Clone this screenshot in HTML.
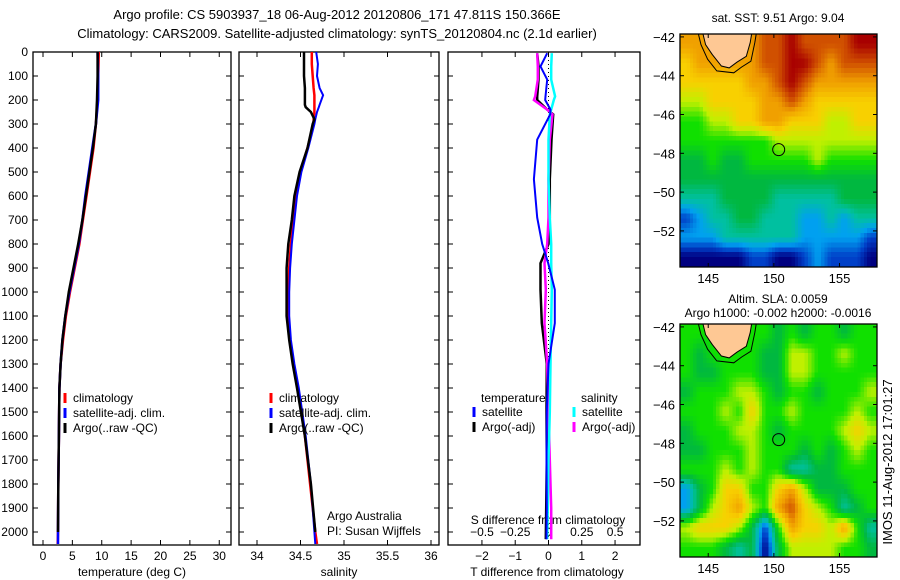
<!DOCTYPE html>
<html><head><meta charset="utf-8"><style>
body{margin:0;background:#fff}
svg{display:block;font-family:"Liberation Sans",sans-serif;font-size:12px}
</style></head><body>
<svg id="fig" width="900" height="580" viewBox="0 0 900 580">
<text x="337" y="19" text-anchor="middle" font-size="13">Argo profile: CS 5903937_18 06-Aug-2012 20120806_171 47.811S 150.366E</text>
<text x="337" y="38" text-anchor="middle" font-size="13">Climatology: CARS2009. Satellite-adjusted climatology: synTS_20120804.nc (2.1d earlier)</text>
<g id="g"></g>
</svg>
<script>
// ---- data ----
const tDepth=[0,100,200,300,400,500,600,700,800,900,1000,1100,1200,1300,1400,1600,1800,2000,2050];
const tClim=[9.5,9.4,9.3,9.0,8.6,8.0,7.4,6.8,6.2,5.4,4.6,3.9,3.4,3.0,2.8,2.7,2.6,2.55,2.5];
const tSat=[9.3,9.4,9.4,9.0,8.4,7.8,7.2,6.7,6.1,5.3,4.5,3.8,3.3,3.0,2.8,2.7,2.6,2.55,2.55];
const tArgo=[9.3,9.3,9.2,9.0,8.5,7.9,7.3,6.7,6.0,5.2,4.4,3.8,3.3,3.0,2.8,2.7,2.6,2.55];
const sDepth=[0,50,100,150,180,220,230,250,280,300,400,500,600,700,800,900,1000,1100,1200,1300,1400,1600,1800,2000,2050];
const sClim=[34.63,34.63,34.64,34.65,34.66,34.66,34.66,34.66,34.65,34.65,34.58,34.5,34.45,34.42,34.39,34.37,34.36,34.36,34.38,34.42,34.47,34.55,34.61,34.67,34.69];
const sSat=[34.68,34.70,34.69,34.72,34.76,34.72,34.71,34.69,34.67,34.66,34.59,34.51,34.46,34.43,34.40,34.38,34.37,34.37,34.39,34.43,34.48,34.56,34.62,34.66,34.67];
const sArgo=[34.54,34.54,34.54,34.55,34.55,34.55,34.56,34.62,34.66,34.64,34.58,34.49,34.43,34.40,34.36,34.34,34.34,34.34,34.37,34.41,34.46,34.55,34.62,34.67];
const dDepth=[5,60,115,185,200,240,260,365,530,690,800,880,990,1130,1300,1500,1700,1900,2030];
const dTSat=[-0.04,-0.24,-0.04,-0.09,-0.1,0.06,0.05,-0.34,-0.44,-0.34,-0.19,-0.01,0.19,0.19,0.0,-0.05,-0.06,-0.05,-0.06];
const dTArgo=[-0.34,-0.3,-0.3,-0.34,-0.34,-0.04,0.14,0.09,0.04,0.04,0.0,-0.24,-0.24,-0.2,-0.05,-0.06,-0.05,-0.07,-0.08];
const dSSat=[0.025,0.02,0.02,0.05,0.04,0.02,0.01,0.0,0.0,0.01,0.02,0.02,0.025,0.02,0.015,0.01,0.0,-0.005,-0.01];
const dSArgo=[-0.085,-0.08,-0.08,-0.1,-0.11,-0.01,0.03,0.01,0.0,0.0,-0.01,-0.03,-0.02,-0.03,-0.01,0.0,0.01,0.02,0.02];
const depthTicks=[0,100,200,300,400,500,600,700,800,900,1000,1100,1200,1300,1400,1500,1600,1700,1800,1900,2000];
const tTicks=[0,5,10,15,20,25,30];
const sTicks=[34,34.5,35,35.5,36];
const dTTicks=[-2,-1,0,1,2];
const dSTicks=[-0.5,-0.25,0,0.25,0.5];
const lonTicks=[145,150,155];
const latTicks=[-42,-44,-46,-48,-50,-52];
const sstGrid=[
[8,8,8,8,8,8,9,9,10,9,9,9,9,10,10],
[7,8,8,8,8,8,9,9,10,10,9,8,9,9,9],
[7,7,7,7,7,8,8,9,10,9,8,8,8,8,8],
[6,6,7,7,7,7,8,8,9,8,7,7,7,7,7],
[5,5,6,6,7,7,8,8,7,7,7,6,6,7,7],
[5,5,5,5,5,5,5,6,6,6,6,6,6,6,6],
[4,4,5,4,4,5,5,5,5,5,6,5,5,5,5],
[4,4,4,4,4,4,4,4,4,4,4,4,4,4,4],
[3,3,3,4,4,4,4,3,3,3,3,3,4,4,4],
[1,2,3,3,4,4,3,3,3,2,2,3,2,3,3],
[2,2,2,3,3,3,3,3,3,2,2,2,2,2,1],
[0,0,0,0,0,1,1,0,0,1,2,1,1,1,0]];
const slaGrid=[
[5,5,5,5,5,5,5,4,5,4,5,5,4,5,5],
[5,4,5,5,5,5,4,4,6,6,5,5,6,5,5],
[5,4,4,5,5,5,4,4,6,6,5,5,5,5,5],
[4,5,5,5,6,6,5,4,5,5,4,5,5,5,6],
[5,5,5,6,5,7,5,5,6,5,5,5,5,6,5],
[4,5,5,5,6,6,5,4,5,5,5,5,6,7,6],
[4,4,5,5,5,6,5,5,5,4,5,4,5,6,5],
[5,5,5,6,5,6,5,5,3,3,4,4,5,5,5],
[2,4,5,7,7,5,5,7,8,6,4,4,4,5,5],
[2,4,6,7,8,6,5,8,9,7,6,5,3,4,5],
[6,7,7,7,6,4,1,5,8,7,7,6,8,5,3],
[5,5,5,4,3,4,0,4,6,6,6,6,5,5,4]];
const landLon=[144.6,144.8,145.3,146.0,146.6,147.2,147.9,148.2,148.3];
const landLat=[-41.85,-42.4,-42.9,-43.5,-43.6,-43.3,-43.0,-42.3,-41.85];
const argoLon=150.366, argoLat=-47.811;
// ---- drawing ----
const NS="http://www.w3.org/2000/svg";const G=document.getElementById('g');
function el(t,a,p){const e=document.createElementNS(NS,t);for(const k in a)e.setAttribute(k,a[k]);(p||G).appendChild(e);return e;}
function txt(x,y,s,anchor,extra){const e=el('text',Object.assign({x:x,y:y,'text-anchor':anchor||'start'},extra||{}));e.textContent=s;return e;}
const Y0=52,Y1=545,yD=d=>Y0+(d-0)*0.24;
const pans=[{x0:33,x1:231,v0:-1.7,v1:32},{x0:239,x1:439,v0:33.793,v1:36.092},{x0:448,x1:640,v0:-3.02,v1:2.75}];
pans.forEach(p=>p.f=v=>p.x0+(v-p.v0)/(p.v1-p.v0)*(p.x1-p.x0));
function line(xs,ys,fx,col,w,name){let d='';for(let i=0;i<xs.length&&i<ys.length;i++){d+=(i?'L':'M')+fx(xs[i]).toFixed(1)+','+yD(ys[i]).toFixed(1);}
 const e=el('path',{d:d,fill:'none',stroke:col,'stroke-width':w});
 
 return e;}
pans.forEach((p,i)=>{
 const b=el('rect',{x:p.x0,y:Y0,width:p.x1-p.x0,height:Y1-Y0,fill:'none',stroke:'#000','stroke-width':1.3});
 
 
 depthTicks.forEach(d=>{el('line',{x1:p.x0,x2:p.x0+5,y1:yD(d),y2:yD(d),stroke:'#000'});el('line',{x1:p.x1,x2:p.x1-5,y1:yD(d),y2:yD(d),stroke:'#000'});});
});
depthTicks.forEach(d=>{const t=txt(28,yD(d)+4,String(d),'end');});
function xticks(p,ticks,ly){ticks.forEach(v=>{const x=p.f(v);el('line',{x1:x,x2:x,y1:Y1,y2:Y1-5,stroke:'#000'});el('line',{x1:x,x2:x,y1:Y0,y2:Y0+5,stroke:'#000'});
 const t=txt(x,ly,String(v).replace('-','\u2212'),'middle');});}
xticks(pans[0],tTicks,560);xticks(pans[1],sTicks,560);xticks(pans[2],dTTicks,560);
const sp=v=>pans[2].f(v*4);
dSTicks.forEach(v=>{const t=txt(sp(v),536,String(v).replace('-','\u2212'),'middle');});
[[132,'temperature (deg C)'],[339,'salinity'],[547,'T difference from climatology']].forEach(a=>{const t=txt(a[0],576,a[1],'middle');});
let t=txt(548,524,'S difference from climatology','middle');
// profiles
line(tClim,tDepth,pans[0].f,'#f00',2.5,'temp-climatology');
line(tSat,tDepth,pans[0].f,'#00f',2.5,'temp-satellite');
line(tArgo,tDepth,pans[0].f,'#000',2.5,'temp-argo');
line(sClim,sDepth,pans[1].f,'#f00',2.5,'sal-climatology');
line(sSat,sDepth,pans[1].f,'#00f',2,'sal-satellite');
line(sArgo,sDepth,pans[1].f,'#000',2.5,'sal-argo');
el('line',{x1:pans[2].f(0),x2:pans[2].f(0),y1:Y0,y2:Y1,stroke:'#000','stroke-dasharray':'1,3'});
line(dTArgo,dDepth,pans[2].f,'#000',2.5,'tdiff-argo');
line(dSArgo,dDepth,sp,'#f0f',2.5,'sdiff-argo');
line(dSSat,dDepth,sp,'#0ff',2.5,'sdiff-satellite');
line(dTSat,dDepth,pans[2].f,'#00f',2,'tdiff-satellite');
// legends
function leg(x,y,col,s,name){el('line',{x1:x,x2:x,y1:y-9,y2:y+1,stroke:col,'stroke-width':3});const t=txt(x+8,y,s);}
[['climatology','#f00'],['satellite-adj. clim.','#00f'],['Argo(..raw -QC)','#000']].forEach((a,i)=>leg(65,402+i*15,a[1],a[0],'legend-entry'));
[['climatology','#f00'],['satellite-adj. clim.','#00f'],['Argo(..raw -QC)','#000']].forEach((a,i)=>leg(271,402+i*15,a[1],a[0],'legend-entry'));
t=txt(481,402,'temperature');
t=txt(581,402,'salinity');
leg(474,416,'#00f','satellite','legend-entry');leg(474,431,'#000','Argo(-adj)','legend-entry');
leg(574,416,'#0ff','satellite','legend-entry');leg(574,431,'#f0f','Argo(-adj)','legend-entry');
t=txt(327,520,'Argo Australia');
t=txt(327,535,'PI: Susan Wijffels');
// maps
const cmap=[[0,0,128],[0,64,200],[0,160,240],[0,192,160],[0,184,64],[16,224,0],[192,240,0],[248,208,0],[240,160,0],[208,80,0],[168,0,0]];
function col(v){v=Math.max(0,Math.min(10,v));const i=Math.min(9,Math.floor(v)),f=v-i;const a=cmap[i],b=cmap[i+1];
 return 'rgb('+a.map((c,k)=>Math.round(c+(b[k]-c)*f)).join(',')+')';}
function sample(grid,r,c){const R=grid.length,C=grid[0].length;r=Math.max(0,Math.min(R-1,r));c=Math.max(0,Math.min(C-1,c));
 const r0=Math.floor(r),c0=Math.floor(c),r1=Math.min(R-1,r0+1),c1=Math.min(C-1,c0+1),fr=r-r0,fc=c-c0;
 return grid[r0][c0]*(1-fr)*(1-fc)+grid[r0][c1]*(1-fr)*fc+grid[r1][c0]*fr*(1-fc)+grid[r1][c1]*fr*fc;}
function drawMap(top,grid,name){
 const L=680,R=877,B=top+233,fx=lo=>L+(lo-142.85)*13.13,fy=la=>top+(-41.85-la)*19.4;
 const g=el('g',{'shape-rendering':'crispEdges'});
 const st=0.25;
 for(let la=-41.85;la>-53.85;la-=st){for(let lo=142.85;lo<158;lo+=st){
  const v=sample(grid,(-41.85-la)+st/2-0.5,(lo-142.85)+st/2-0.5);
  const x=fx(lo),y=fy(la);
  el('rect',{x:x.toFixed(1),y:y.toFixed(1),width:Math.min(13.13*st+0.6,R-x).toFixed(1),height:Math.min(19.4*st+0.6,B-y).toFixed(1),fill:col(v)},g);}}
 let pts=landLon.map((lo,i)=>fx(lo).toFixed(1)+','+fy(landLat[i]).toFixed(1)).join(' ');
 const ol=landLon.map((lo,i)=>fx(lo+(lo<146.3?-0.35:0.35)).toFixed(1)+','+fy(landLat[i]-(i>1&&i<7?0.25:0)).toFixed(1)).join(' ');
 el('polyline',{points:ol,fill:'none',stroke:'#000'});
 const land=el('polygon',{points:pts,fill:'#fec894',stroke:'#000'});
 
 const c=el('circle',{cx:fx(argoLon),cy:fy(argoLat),r:6,fill:'none',stroke:'#000'});
 
 el('rect',{x:L,y:top,width:R-L,height:B-top,fill:'none',stroke:'#000','stroke-width':1.3});
 lonTicks.forEach(lo=>{const x=fx(lo);el('line',{x1:x,x2:x,y1:B,y2:B-4,stroke:'#000'});el('line',{x1:x,x2:x,y1:top,y2:top+4,stroke:'#000'});
  const t=txt(x,B+16,String(lo),'middle',{'font-size':13});});
 latTicks.forEach(la=>{const y=fy(la);el('line',{x1:L,x2:L+4,y1:y,y2:y,stroke:'#000'});el('line',{x1:R,x2:R-4,y1:y,y2:y,stroke:'#000'});
  const t=txt(675,y+5,String(la).replace('-','\u2212'),'end',{'font-size':13});});
}
drawMap(34,sstGrid,'sst-map');drawMap(324,slaGrid,'sla-map');
t=txt(778,22,'sat. SST: 9.51 Argo: 9.04','middle');
t=txt(778,303,'Altim. SLA: 0.0059','middle');
t=txt(778,317,'Argo h1000: -0.002 h2000: -0.0016','middle');
t=txt(0,0,'IMOS 11-Aug-2012 17:01:27','middle',{transform:'translate(892,462) rotate(-90)','font-size':13});
</script>
</body></html>
